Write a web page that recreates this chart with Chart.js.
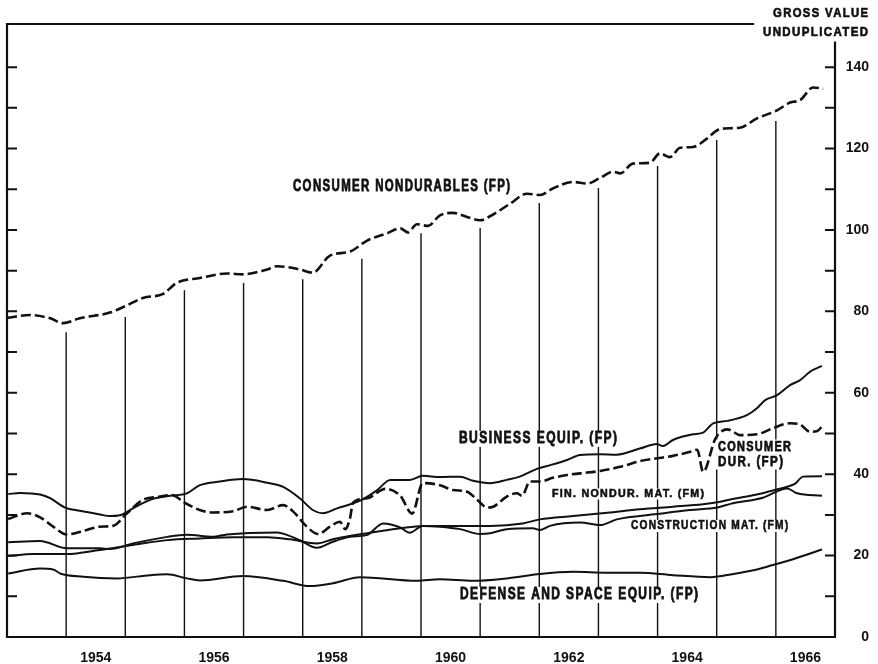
<!DOCTYPE html>
<html>
<head>
<meta charset="utf-8">
<script src="https://cdn.jsdelivr.net/npm/chart.js@4/dist/chart.umd.min.js"></script>
<style>
  html, body { margin: 0; padding: 0; background: #fff; }
  #wrap { width: 878px; height: 664px; position: relative; }
</style>
</head>
<body>
<div id="wrap"><canvas id="grafico"></canvas></div>
<script>
// Dados (ano decimal e valor do indice)
const nondurYears = [1953.00, 1953.39, 1953.73, 1953.95, 1954.23, 1954.74, 1955.03, 1955.30, 1955.64, 1955.87, 1956.26, 1956.72, 1956.99, 1957.40, 1957.57, 1957.95, 1958.17, 1958.46, 1958.80, 1959.09, 1959.43, 1959.65, 1959.78, 1959.93, 1960.12, 1960.32, 1960.54, 1960.78, 1961.00, 1961.22, 1961.51, 1961.79, 1962.01, 1962.23, 1962.57, 1962.81, 1963.03, 1963.25, 1963.37, 1963.58, 1963.87, 1964.04, 1964.21, 1964.38, 1964.60, 1964.84, 1965.01, 1965.23, 1965.39, 1965.68, 1966.02, 1966.24, 1966.41, 1966.63, 1966.80];
const nondurValues = [78.4, 79.1, 78.3, 77.1, 78.3, 79.7, 81.5, 83.3, 84.3, 87.0, 88.2, 89.3, 89.1, 90.3, 91.1, 90.3, 89.5, 93.7, 94.7, 97.4, 99.2, 100.4, 99.4, 101.4, 101.0, 103.6, 104.2, 103.2, 102.4, 103.8, 106.5, 108.9, 108.6, 110.2, 111.8, 111.4, 112.8, 114.3, 113.9, 116.3, 116.5, 118.8, 117.9, 120.2, 120.4, 122.5, 124.5, 125.0, 125.1, 127.4, 129.4, 131.3, 131.9, 135.0, 134.7];

const equipYears = [1953.02, 1953.22, 1953.56, 1953.73, 1953.98, 1954.23, 1954.57, 1954.74, 1954.91, 1955.13, 1955.42, 1955.76, 1956.04, 1956.26, 1956.60, 1956.99, 1957.40, 1957.67, 1957.95, 1958.17, 1958.34, 1958.58, 1958.97, 1959.26, 1959.48, 1959.81, 1960.03, 1960.32, 1960.66, 1960.88, 1961.17, 1961.45, 1961.67, 1961.96, 1962.13, 1962.47, 1962.69, 1963.03, 1963.31, 1963.70, 1963.99, 1964.09, 1964.26, 1964.60, 1964.77, 1964.94, 1965.18, 1965.51, 1965.68, 1965.82, 1966.02, 1966.24, 1966.41, 1966.58, 1966.78];
const equipValues = [35.1, 35.4, 35.0, 34.1, 31.8, 31.0, 30.1, 29.7, 29.9, 31.6, 33.7, 34.7, 35.3, 37.3, 38.2, 38.8, 37.9, 36.9, 34.1, 31.2, 30.4, 31.6, 33.5, 36.1, 38.6, 38.6, 39.6, 39.3, 39.4, 38.4, 37.8, 38.6, 39.4, 41.3, 42.0, 43.5, 44.7, 44.9, 44.8, 46.3, 47.4, 46.9, 48.4, 49.8, 50.2, 52.5, 53.1, 54.5, 56.2, 58.2, 59.4, 61.9, 63.1, 65.2, 66.6];

const durYears = [1953.02, 1953.34, 1953.56, 1953.78, 1954.01, 1954.35, 1954.57, 1954.79, 1955.03, 1955.30, 1955.59, 1955.79, 1955.98, 1956.26, 1956.48, 1956.82, 1957.06, 1957.40, 1957.67, 1957.84, 1958.07, 1958.26, 1958.46, 1958.63, 1958.72, 1958.80, 1958.85, 1959.09, 1959.40, 1959.65, 1959.85, 1960.03, 1960.32, 1960.54, 1960.78, 1960.95, 1961.12, 1961.22, 1961.45, 1961.62, 1961.71, 1961.84, 1962.01, 1962.23, 1962.47, 1962.69, 1963.03, 1963.37, 1963.70, 1963.99, 1964.26, 1964.55, 1964.67, 1964.77, 1964.98, 1965.18, 1965.28, 1965.39, 1965.68, 1965.95, 1966.24, 1966.41, 1966.58, 1966.70, 1966.78];
const durValues = [29.0, 30.4, 29.4, 27.1, 25.2, 26.3, 27.1, 27.3, 30.4, 33.7, 34.5, 34.9, 33.2, 31.2, 30.6, 30.9, 32.0, 31.2, 32.4, 30.8, 27.1, 25.3, 27.1, 28.3, 26.5, 29.2, 33.0, 34.1, 36.4, 34.7, 30.3, 37.8, 37.3, 36.1, 35.7, 33.7, 31.8, 32.0, 34.5, 35.3, 34.7, 38.2, 38.2, 39.1, 39.8, 40.2, 40.8, 41.8, 43.2, 43.9, 44.5, 45.5, 46.0, 40.6, 48.8, 51.0, 50.4, 49.6, 49.8, 51.3, 52.5, 52.2, 50.4, 50.6, 51.7];

const finYears = [1953.02, 1953.44, 1954.01, 1954.57, 1955.13, 1955.71, 1956.26, 1956.82, 1957.40, 1957.79, 1958.24, 1958.51, 1959.09, 1959.65, 1960.03, 1960.32, 1960.88, 1961.17, 1961.72, 1962.01, 1962.57, 1963.15, 1963.70, 1964.26, 1964.77, 1965.01, 1965.23, 1965.68, 1965.95, 1966.19, 1966.32, 1966.46, 1966.78];
const finValues = [19.9, 20.4, 20.4, 21.4, 22.6, 23.8, 24.2, 24.5, 24.5, 24.0, 23.0, 24.0, 25.5, 26.7, 27.3, 27.3, 27.3, 27.3, 27.9, 28.9, 29.7, 30.5, 31.4, 32.0, 32.6, 33.1, 33.8, 35.0, 36.0, 36.9, 37.6, 39.4, 39.5];

const constrYears = [1953.02, 1953.56, 1954.01, 1954.57, 1954.74, 1955.13, 1955.71, 1956.04, 1956.48, 1956.72, 1957.57, 1957.73, 1957.95, 1958.24, 1958.51, 1958.80, 1959.09, 1959.36, 1959.65, 1959.81, 1960.03, 1960.32, 1960.66, 1961.00, 1961.17, 1961.45, 1961.89, 1962.01, 1962.18, 1962.69, 1963.03, 1963.31, 1963.99, 1964.55, 1965.01, 1965.23, 1965.78, 1966.19, 1966.36, 1966.78];
const constrValues = [23.3, 23.6, 21.8, 21.8, 21.6, 23.0, 24.6, 25.1, 24.6, 25.2, 25.7, 25.1, 23.8, 21.9, 23.4, 24.6, 25.1, 27.9, 26.9, 25.6, 27.3, 27.1, 26.5, 25.3, 25.5, 26.5, 26.7, 26.3, 27.3, 28.1, 27.5, 28.9, 30.2, 31.2, 31.8, 32.7, 34.2, 36.5, 35.3, 34.7];

const defenseYears = [1953.02, 1953.56, 1953.78, 1953.90, 1954.29, 1954.86, 1955.42, 1955.71, 1956.04, 1956.26, 1956.99, 1957.67, 1958.12, 1958.51, 1958.97, 1959.93, 1960.32, 1960.88, 1961.45, 1962.01, 1962.57, 1963.15, 1963.70, 1964.26, 1964.89, 1965.28, 1965.68, 1965.95, 1966.29, 1966.78];
const defenseValues = [15.6, 16.8, 16.6, 15.6, 14.8, 14.4, 15.2, 15.4, 14.4, 13.9, 15.0, 13.8, 12.5, 13.2, 14.7, 13.8, 14.2, 13.8, 14.4, 15.5, 16.0, 15.8, 15.8, 15.2, 14.7, 15.5, 16.6, 17.7, 19.1, 21.5];

// Eixos
const yearLabels = [1954, 1956, 1958, 1960, 1962, 1964, 1966];
const yearLines = [1954, 1955, 1956, 1957, 1958, 1959, 1960, 1961, 1962, 1963, 1964, 1965, 1966];
const yearLineTops = [74.9, 78.6, 85.2, 87.0, 87.9, 92.9, 99.2, 100.5, 106.6, 110.3, 115.7, 122.1, 126.8]; // onde cada linha vertical termina
const yTicks = [10, 20, 30, 40, 50, 60, 70, 80, 90, 100, 110, 120, 130, 140];
const yLabels = [0, 20, 40, 60, 80, 100, 120, 140];

const INK = '#111';
const FONTE = '"Liberation Sans", Arial, sans-serif';

function pontos(anos, valores) {
    return anos.map((a, i) => ({ x: a, y: valores[i] }));
}

// texto condensado, ajustado pra largura e com fundo branco por baixo
function textoAjustado(ctx, texto, esquerda, centroY, largura, tamanho) {
    ctx.save();
    ctx.font = `bold ${tamanho}px ${FONTE}`;
    ctx.letterSpacing = (tamanho * 0.12).toFixed(1) + 'px';
    const w = ctx.measureText(texto).width - tamanho * 0.12;
    const sx = largura / w;
    ctx.fillStyle = '#fff';
    ctx.fillRect(esquerda - 2, centroY - tamanho * 0.5, largura + 4, tamanho);
    ctx.translate(esquerda, centroY);
    ctx.scale(sx, 1);
    ctx.fillStyle = INK;
    ctx.strokeStyle = INK;
    ctx.lineWidth = tamanho * 0.05;
    ctx.textBaseline = 'middle';
    ctx.textAlign = 'left';
    ctx.fillText(texto, 0, 0);
    ctx.strokeText(texto, 0, 0); // engrossa um pouco a letra
    ctx.restore();
}

const moldura = {
    id: 'moldura',
    beforeDatasetsDraw(chart) {
        const { ctx, scales: { x, y } } = chart;
        ctx.save();
        ctx.strokeStyle = INK;
        ctx.lineWidth = 1.4;
        yearLines.forEach((ano, i) => {
            const px = x.getPixelForValue(ano);
            ctx.beginPath();
            ctx.moveTo(px, y.getPixelForValue(0));
            ctx.lineTo(px, y.getPixelForValue(yearLineTops[i]));
            ctx.stroke();
        });
        ctx.restore();
    },
    afterDatasetsDraw(chart) {
        const { ctx, chartArea: a, scales: { y } } = chart;
        ctx.save();
        ctx.strokeStyle = INK;
        ctx.lineWidth = 2.2;
        ctx.lineCap = 'square';
        ctx.beginPath();
        // topo, esquerda, base e eixo da direita
        ctx.moveTo(a.right - 82, a.top);
        ctx.lineTo(a.left, a.top);
        ctx.lineTo(a.left, a.bottom);
        ctx.lineTo(a.right, a.bottom);
        ctx.lineTo(a.right, y.getPixelForValue(146));
        ctx.stroke();

        // tracinhos pra dentro nos dois lados
        ctx.lineWidth = 2;
        ctx.lineCap = 'butt';
        yTicks.forEach(v => {
            const py = y.getPixelForValue(v);
            ctx.beginPath();
            ctx.moveTo(a.left, py);
            ctx.lineTo(a.left + 10, py);
            ctx.moveTo(a.right, py);
            ctx.lineTo(a.right - 10, py);
            ctx.stroke();
        });
        ctx.restore();

        textoAjustado(ctx, 'CONSUMER NONDURABLES (FP)', 293, 187, 217, 16);
        textoAjustado(ctx, 'BUSINESS EQUIP. (FP)', 459, 439, 158, 16);
        textoAjustado(ctx, 'CONSUMER', 718, 447, 73, 15);
        textoAjustado(ctx, 'DUR. (FP)', 718, 462, 65, 15);
        textoAjustado(ctx, 'FIN. NONDUR. MAT. (FM)', 552, 494, 152, 11);
        textoAjustado(ctx, 'CONSTRUCTION MAT. (FM)', 631, 526, 157, 12);
        textoAjustado(ctx, 'DEFENSE AND SPACE EQUIP. (FP)', 460, 595, 238, 16);
        textoAjustado(ctx, 'GROSS VALUE', 773, 13, 95, 13);
        textoAjustado(ctx, 'UNDUPLICATED', 763, 32, 105, 13);
    }
};

function serie(anos, valores, tracejado) {
    return {
        data: pontos(anos, valores),
        borderColor: INK,
        borderWidth: tracejado ? 2.6 : 2,
        borderDash: tracejado ? [10, 4] : [],
        pointRadius: 0,
        fill: false,
        cubicInterpolationMode: 'monotone'
    };
}

new Chart(document.getElementById('grafico'), {
    type: 'line',
    data: {
        datasets: [
            serie(nondurYears, nondurValues, true),
            serie(equipYears, equipValues, false),
            serie(durYears, durValues, true),
            serie(finYears, finValues, false),
            serie(constrYears, constrValues, false),
            serie(defenseYears, defenseValues, false)
        ]
    },
    options: {
        responsive: true,
        maintainAspectRatio: false,
        animation: false,
        devicePixelRatio: 1,
        layout: { padding: { left: 7, top: 24, right: 9, bottom: 0 } },
        plugins: { legend: { display: false }, tooltip: { enabled: false } },
        scales: {
            x: {
                type: 'linear',
                min: 1953,
                max: 1967,
                grid: { display: false, drawTicks: false },
                border: { display: false },
                afterBuildTicks: s => { s.ticks = yearLabels.map(a => ({ value: a + 0.5 })); },
                afterFit: s => { s.height = 27; },
                ticks: {
                    padding: 13,
                    maxRotation: 0,
                    autoSkip: false,
                    color: INK,
                    font: { family: FONTE, size: 14, weight: 'bold' },
                    callback: v => String(Math.floor(v))
                }
            },
            y: {
                position: 'right',
                min: 0,
                max: 150.6,
                grid: { display: false, drawTicks: false },
                border: { display: false },
                afterBuildTicks: s => { s.ticks = yLabels.map(v => ({ value: v })); },
                afterFit: s => { s.width = 34; },
                ticks: {
                    padding: 2,
                    crossAlign: 'far',
                    color: INK,
                    font: { family: FONTE, size: 14, weight: 'bold' },
                    callback: v => String(v)
                }
            }
        }
    },
    plugins: [moldura]
});
</script>
</body>
</html>
